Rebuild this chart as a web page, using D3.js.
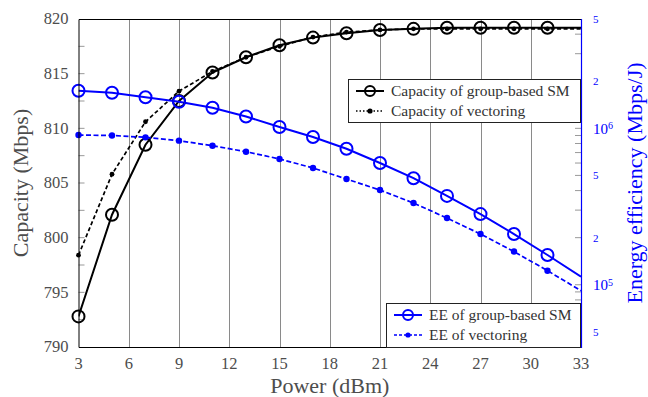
<!DOCTYPE html>
<html>
<head>
<meta charset="utf-8">
<script src="https://cdn.jsdelivr.net/npm/d3@7"></script>
<style>
  body { margin: 0; background: #fff; }
  svg text { font-family: 'Liberation Serif', 'DejaVu Serif', serif; }
</style>
</head>
<body>
<svg class="chart"></svg>
<script>
const size = {w: 648, h: 397};
const margin = {left: 78.5, right: 67, top: 19, bottom: 50};

// power (dBm) on the x axis
const power = [3, 5, 7, 9, 11, 13, 15, 17, 19, 21, 23, 25, 27, 29, 31, 33];
// capacity in Mbps (left axis)
const capSM = [792.8, 802.1, 808.5, 812.5, 815.1, 816.5, 817.6, 818.3, 818.7, 819.0, 819.1, 819.2, 819.2, 819.2, 819.2, 819.2];
const capVec = [798.4, 805.8, 810.6, 813.4, 815.2, 816.5, 817.5, 818.35, 818.8, 819.0, 819.1, 819.1, 819.1, 819.1, 819.1, 819.1];
// energy efficiency in Mbps/J (right axis, log)
const eeSM = [1.74e6, 1.69e6, 1.58e6, 1.48e6, 1.355e6, 1.19e6, 1.02e6, 8.8e5, 7.4e5, 6.0e5, 4.8e5, 3.7e5, 2.83e5, 2.11e5, 1.55e5, 1.125e5];
const eeVec = [9.06e5, 9.0e5, 8.76e5, 8.34e5, 7.74e5, 7.09e5, 6.37e5, 5.58e5, 4.74e5, 4.03e5, 3.33e5, 2.67e5, 2.11e5, 1.63e5, 1.23e5, 9.16e4];

const xTicks = [3, 6, 9, 12, 15, 18, 21, 24, 27, 30, 33];
const capTicks = [790, 795, 800, 805, 810, 815, 820];
const capMinor = [792.5, 797.5, 802.5, 807.5, 812.5, 817.5];
const eeLabels = [5e4, 1e5, 2e5, 5e5, 1e6, 2e6, 5e6];

const legendCap = ['Capacity of group-based SM', 'Capacity of vectoring'];
const legendEE = ['EE of group-based SM', 'EE of vectoring'];

const blue = '#0000ff';
const grey = '#4d4d4d';
const serif = "'Liberation Serif', 'DejaVu Serif', serif";

const svg = d3.select('svg.chart')
    .attr('width', size.w)
    .attr('height', size.h)
    .style('font-family', serif);

const x0 = margin.left, x1 = size.w - margin.right;
const y0 = size.h - margin.bottom, y1 = margin.top;

const xScale = d3.scaleLinear().domain([3, 33]).range([x0, x1]);
const capScale = d3.scaleLinear().domain([790, 820]).range([y0, y1]);
const eeScale = d3.scaleLog().domain([4e4, 5e6]).range([y0, y1]);

svg.append('defs').append('clipPath').attr('id', 'plot')
    .append('rect')
    .attr('x', x0).attr('y', y1)
    .attr('width', x1 - x0).attr('height', y0 - y1);

// vertical grid
svg.append('g').selectAll('line')
    .data(xTicks.slice(1, -1))
    .join('line')
    .attr('x1', d => Math.round(xScale(d)) + 0.5)
    .attr('x2', d => Math.round(xScale(d)) + 0.5)
    .attr('y1', y1).attr('y2', y0)
    .attr('stroke', '#8a8a8a')
    .attr('stroke-width', 1);

// left minor/major ticks (inside)
svg.append('g').selectAll('line')
    .data(capTicks.slice(1, -1).concat(capMinor))
    .join('line')
    .attr('x1', x0).attr('x2', x0 + 6)
    .attr('y1', d => capScale(d)).attr('y2', d => capScale(d))
    .attr('stroke', '#999').attr('stroke-width', 1);

// right log ticks (inside)
let eeTicks = [];
for (let e = 4; e <= 6; e++) {
    for (let m = 1; m <= 9; m++) {
        let v = m * Math.pow(10, e);
        if (v > 4e4 && v < 5e6) eeTicks.push(v);
    }
}
svg.append('g').selectAll('line')
    .data(eeTicks)
    .join('line')
    .attr('x1', x1 - 6).attr('x2', x1)
    .attr('y1', d => eeScale(d)).attr('y2', d => eeScale(d))
    .attr('stroke', '#999').attr('stroke-width', 1);

const plotG = svg.append('g').attr('clip-path', 'url(#plot)');

const capLine = d3.line().x((d, i) => xScale(power[i])).y(d => capScale(d));
const eeLine = d3.line().x((d, i) => xScale(power[i])).y(d => eeScale(d));

const series = [
    {data: capSM, line: capLine, y: capScale, color: '#000', dash: null, mark: 'circle'},
    {data: capVec, line: capLine, y: capScale, color: '#000', dash: '4,2.5', mark: 'dot'},
    {data: eeSM, line: eeLine, y: eeScale, color: blue, dash: null, mark: 'circle'},
    {data: eeVec, line: eeLine, y: eeScale, color: blue, dash: '5,2.5', mark: 'dot'}
];

series.forEach(s => {
    plotG.append('path')
        .attr('d', s.line(s.data))
        .attr('fill', 'none')
        .attr('stroke', s.color)
        .attr('stroke-width', s.dash ? 1.7 : 2)
        .attr('stroke-dasharray', s.dash);
});

// markers (no mark on the last point)
series.forEach(s => {
    let pts = s.data.map((d, i) => [power[i], d]).filter(p => p[0] <= 31);
    svg.append('g').selectAll('circle')
        .data(pts)
        .join('circle')
        .attr('cx', d => xScale(d[0]))
        .attr('cy', d => s.y(d[1]))
        .attr('r', s.mark === 'circle' ? 6 : (s.color === blue ? 3.2 : 2.4))
        .attr('fill', s.mark === 'circle' ? 'none' : s.color)
        .attr('stroke', s.mark === 'circle' ? s.color : 'none')
        .attr('stroke-width', 2);
});

// frame
svg.append('path')
    .attr('d', `M${x1},${y1 + 0.5}H${x0 + 0.5}V${y0 + 0.5}H${x1}`)
    .attr('fill', 'none').attr('stroke', '#000').attr('stroke-width', 1);
svg.append('line')
    .attr('x1', x1 + 0.5).attr('x2', x1 + 0.5)
    .attr('y1', y1).attr('y2', y0 + 1)
    .attr('stroke', blue).attr('stroke-width', 1.2);

// left axis labels
svg.append('g').selectAll('text')
    .data(capTicks)
    .join('text')
    .attr('x', x0 - 10)
    .attr('y', d => capScale(d))
    .attr('dy', '0.33em')
    .attr('text-anchor', 'end')
    .attr('font-size', 16.5)
    .attr('fill', grey)
    .text(d => d);

// bottom axis labels
svg.append('g').selectAll('text')
    .data(xTicks)
    .join('text')
    .attr('x', d => xScale(d))
    .attr('y', y0 + 22)
    .attr('text-anchor', 'middle')
    .attr('font-size', 16.5)
    .attr('fill', grey)
    .text(d => d);

// right axis labels
const eeLab = svg.append('g').selectAll('text')
    .data(eeLabels)
    .join('text')
    .attr('x', x1 + 12)
    .attr('y', d => eeScale(d))
    .attr('fill', blue);
eeLab.each(function (d) {
    let t = d3.select(this);
    let exp = Math.log10(d);
    if (Number.isInteger(Math.round(exp * 1e6) / 1e6)) {
        t.attr('dy', '0.35em').attr('font-size', 15);
        t.append('tspan').text('10');
        t.append('tspan').attr('dy', '-0.45em').attr('font-size', 10).text(Math.round(exp));
    } else {
        t.attr('dy', '0.35em').attr('font-size', 11)
            .text(Math.round(d / Math.pow(10, Math.floor(exp))));
    }
});

// axis titles
svg.append('text')
    .attr('transform', `translate(28,${(y0 + y1) / 2}) rotate(-90)`)
    .attr('text-anchor', 'middle')
    .attr('font-size', 22)
    .attr('fill', grey)
    .text('Capacity (Mbps)');
svg.append('text')
    .attr('x', (x0 + x1) / 2)
    .attr('y', 393)
    .attr('text-anchor', 'middle')
    .attr('font-size', 22)
    .attr('fill', grey)
    .text('Power (dBm)');
svg.append('text')
    .attr('transform', `translate(642,${(y0 + y1) / 2}) rotate(-90)`)
    .attr('text-anchor', 'middle')
    .attr('font-size', 22)
    .attr('fill', blue)
    .text('Energy efficiency (Mbps/J)');

// legends
function drawLegend(labels, entries, box) {
    let g = svg.append('g');
    g.append('rect')
        .attr('x', box.x + 0.5).attr('y', box.y + 0.5)
        .attr('width', box.w).attr('height', box.h)
        .attr('fill', '#fff').attr('stroke', '#222').attr('stroke-width', 1);
    labels.forEach((lab, i) => {
        let s = entries[i];
        let cy = box.y + 12 + i * 20;
        let lx = box.x + 8;
        g.append('line')
            .attr('x1', lx).attr('x2', lx + 28)
            .attr('y1', cy).attr('y2', cy)
            .attr('stroke', s.color)
            .attr('stroke-width', s.dash ? 1.6 : 2)
            .attr('stroke-dasharray', s.dash ? (s.color === blue ? '3,2' : '1.5,2') : null);
        g.append('circle')
            .attr('cx', lx + 14).attr('cy', cy)
            .attr('r', s.mark === 'circle' ? 5 : 2.6)
            .attr('fill', s.mark === 'circle' ? 'none' : s.color)
            .attr('stroke', s.mark === 'circle' ? s.color : 'none')
            .attr('stroke-width', 2);
        g.append('text')
            .attr('x', lx + 35)
            .attr('y', cy)
            .attr('dy', '0.32em')
            .attr('font-size', 15.5)
            .attr('fill', '#333')
            .text(lab);
    });
}
drawLegend(legendCap, series.slice(0, 2), {x: 348, y: 79, w: 232, h: 43});
drawLegend(legendEE, series.slice(2, 4), {x: 386, y: 303, w: 194, h: 44});
</script>
</body>
</html>
